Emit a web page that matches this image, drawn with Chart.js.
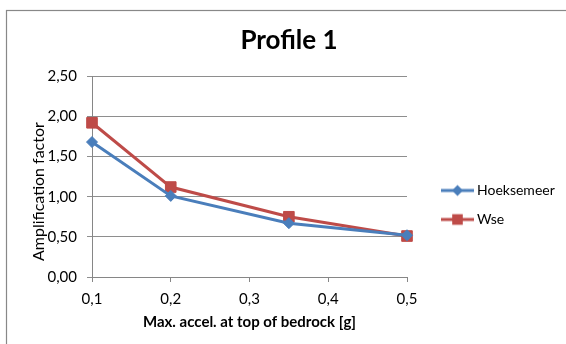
<!DOCTYPE html>
<html>
<head>
<meta charset="utf-8">
<script src="https://cdn.jsdelivr.net/npm/chart.js@4.4.1/dist/chart.umd.min.js"></script>
<style>
  html, body { margin: 0; padding: 0; background: #ffffff; }
  #wrap { width: 566px; height: 344px; position: relative; }
</style>
</head>
<body>
<div id="wrap"><canvas id="chart" width="566" height="344"></canvas></div>
<script>
// Peak bedrock acceleration [g] and amplification factors per site
const accel = [0.1, 0.2, 0.35, 0.5];
const hoeksemeer = [1.68, 1.01, 0.67, 0.52];
const wse = [1.92, 1.12, 0.75, 0.51];
const seriesNames = ['Hoeksemeer', 'Wse'];
const xTicks = [0.1, 0.2, 0.3, 0.4, 0.5];
const yTicks = [0, 0.5, 1, 1.5, 2, 2.5];

const FONT = 'Lato, "Liberation Sans", sans-serif';
const BLUE = '#4a7ebb';
const RED = '#be4b48';
const GRID = '#8e8e8e';
const AXIS = '#868686';

const pairs = (xs, ys) => xs.map((x, i) => ({ x: x, y: ys[i] }));
const comma = (v, d) => v.toFixed(d).replace('.', ',');

// Small line-with-marker swatch used as the legend symbol
function swatch(color, shape) {
  const c = document.createElement('canvas');
  c.width = 33; c.height = 14;
  const g = c.getContext('2d');
  g.strokeStyle = color; g.fillStyle = color; g.lineWidth = 3;
  g.beginPath(); g.moveTo(0, 7); g.lineTo(33, 7); g.stroke();
  g.beginPath();
  if (shape === 'rect') {
    g.rect(16.5 - 5.3, 7 - 5.3, 10.6, 10.6);
  } else {
    g.moveTo(16.5, 7 - 5.5); g.lineTo(22, 7); g.lineTo(16.5, 12.5); g.lineTo(11, 7); g.closePath();
  }
  g.fill();
  return c;
}

const styles = [
  { color: BLUE, shape: 'rectRot', radius: 5.5 },
  { color: RED, shape: 'rect', radius: 7.5 }
];
const seriesValues = [hoeksemeer, wse];

// Outer frame of the chart box
const frame = {
  id: 'frame',
  beforeDraw(chart) {
    const ctx = chart.ctx;
    ctx.save();
    ctx.fillStyle = '#ffffff';
    ctx.fillRect(0, 0, chart.width, chart.height);
    ctx.strokeStyle = '#888888';
    ctx.lineWidth = 1.2;
    ctx.strokeRect(6.5, 10.5, chart.width + 20, chart.height + 20);
    ctx.restore();
  }
};

// Fixed-width legend column, nudged into place beside the plot
const LEGEND_WIDTH = 159;
const LEGEND_DX = 23;
const LEGEND_DY = 33;
const legendPlacement = {
  id: 'legendPlacement',
  afterInit(chart) {
    const lg = chart.legend;
    const fit = lg.fit;
    lg.fit = function () { fit.call(this); this.width = LEGEND_WIDTH; };
  },
  afterLayout(chart) {
    const lg = chart.legend;
    lg.left += LEGEND_DX; lg.right += LEGEND_DX;
    lg.top += LEGEND_DY; lg.bottom += LEGEND_DY;
  }
};

// The value-axis title sits a little below the middle of the axis
const Y_TITLE_SHIFT = 15;
const yTitleOffset = {
  id: 'yTitleOffset',
  beforeDraw(chart) {
    const s = chart.scales.y;
    if (!s || s._titleShifted) return;
    const draw = s.drawTitle;
    s.drawTitle = function () {
      this.ctx.save();
      this.ctx.translate(0, Y_TITLE_SHIFT);
      draw.call(this);
      this.ctx.restore();
    };
    s._titleShifted = true;
  }
};

new Chart(document.getElementById('chart'), {
  type: 'line',
  data: {
    datasets: seriesNames.map((name, i) => ({
      label: name,
      data: pairs(accel, seriesValues[i]),
      borderColor: styles[i].color,
      backgroundColor: styles[i].color,
      borderWidth: 3,
      pointStyle: styles[i].shape,
      pointRadius: styles[i].radius,
      pointHoverRadius: styles[i].radius,
      pointBorderWidth: 1,
      pointBackgroundColor: styles[i].color,
      pointBorderColor: styles[i].color,
      tension: 0,
      clip: false
    }))
  },
  options: {
    responsive: false,
    animation: false,
    events: [],
    layout: { padding: { left: 12, right: 0, top: 0, bottom: 0 } },
    plugins: {
      title: {
        display: true,
        text: 'Profile 1',
        color: '#000000',
        font: { family: FONT, size: 26, weight: 'bold' },
        padding: { top: 25, bottom: 20 }
      },
      legend: {
        position: 'right',
        labels: {
          usePointStyle: true,
          pointStyleWidth: 25,
          padding: 15,
          color: '#000000',
          font: { family: FONT, size: 14 },
          generateLabels: (chart) => chart.data.datasets.map((ds, i) => ({
            text: ds.label,
            pointStyle: swatch(styles[i].color, styles[i].shape),
            fillStyle: styles[i].color,
            strokeStyle: styles[i].color,
            lineWidth: 0,
            hidden: false,
            datasetIndex: i
          }))
        }
      },
      tooltip: { enabled: false }
    },
    scales: {
      x: {
        type: 'linear',
        min: 0.1,
        max: 0.5,
        afterBuildTicks: (s) => { s.ticks = xTicks.map(v => ({ value: v })); },
        afterFit: (s) => { s.height = 67; },
        grid: { display: true, drawOnChartArea: false, drawTicks: true, tickLength: 5, color: AXIS },
        border: { display: true, color: AXIS, width: 1 },
        ticks: {
          padding: 8,
          color: '#000000',
          font: { family: FONT, size: 15 },
          maxRotation: 0,
          callback: (v) => comma(v, 1)
        },
        title: {
          display: true,
          text: 'Max. accel. at top of bedrock [g]',
          color: '#000000',
          font: { family: FONT, size: 15, weight: 'bold' },
          padding: { top: 0, bottom: 13 }
        }
      },
      y: {
        type: 'linear',
        min: 0,
        max: 2.5,
        afterBuildTicks: (s) => { s.ticks = yTicks.map(v => ({ value: v })); },
        afterFit: (s) => { s.width = 80; },
        grid: { color: GRID, tickLength: 5, drawTicks: true },
        border: { display: true, color: AXIS, width: 1 },
        ticks: {
          padding: 10,
          color: '#000000',
          font: { family: FONT, size: 15 },
          callback: (v) => comma(v, 2)
        },
        title: {
          display: true,
          text: 'Amplification factor',
          color: '#000000',
          font: { family: FONT, size: 16 },
          padding: { top: 17, bottom: 0 }
        }
      }
    }
  },
  plugins: [frame, legendPlacement, yTitleOffset]
});
</script>
</body>
</html>
